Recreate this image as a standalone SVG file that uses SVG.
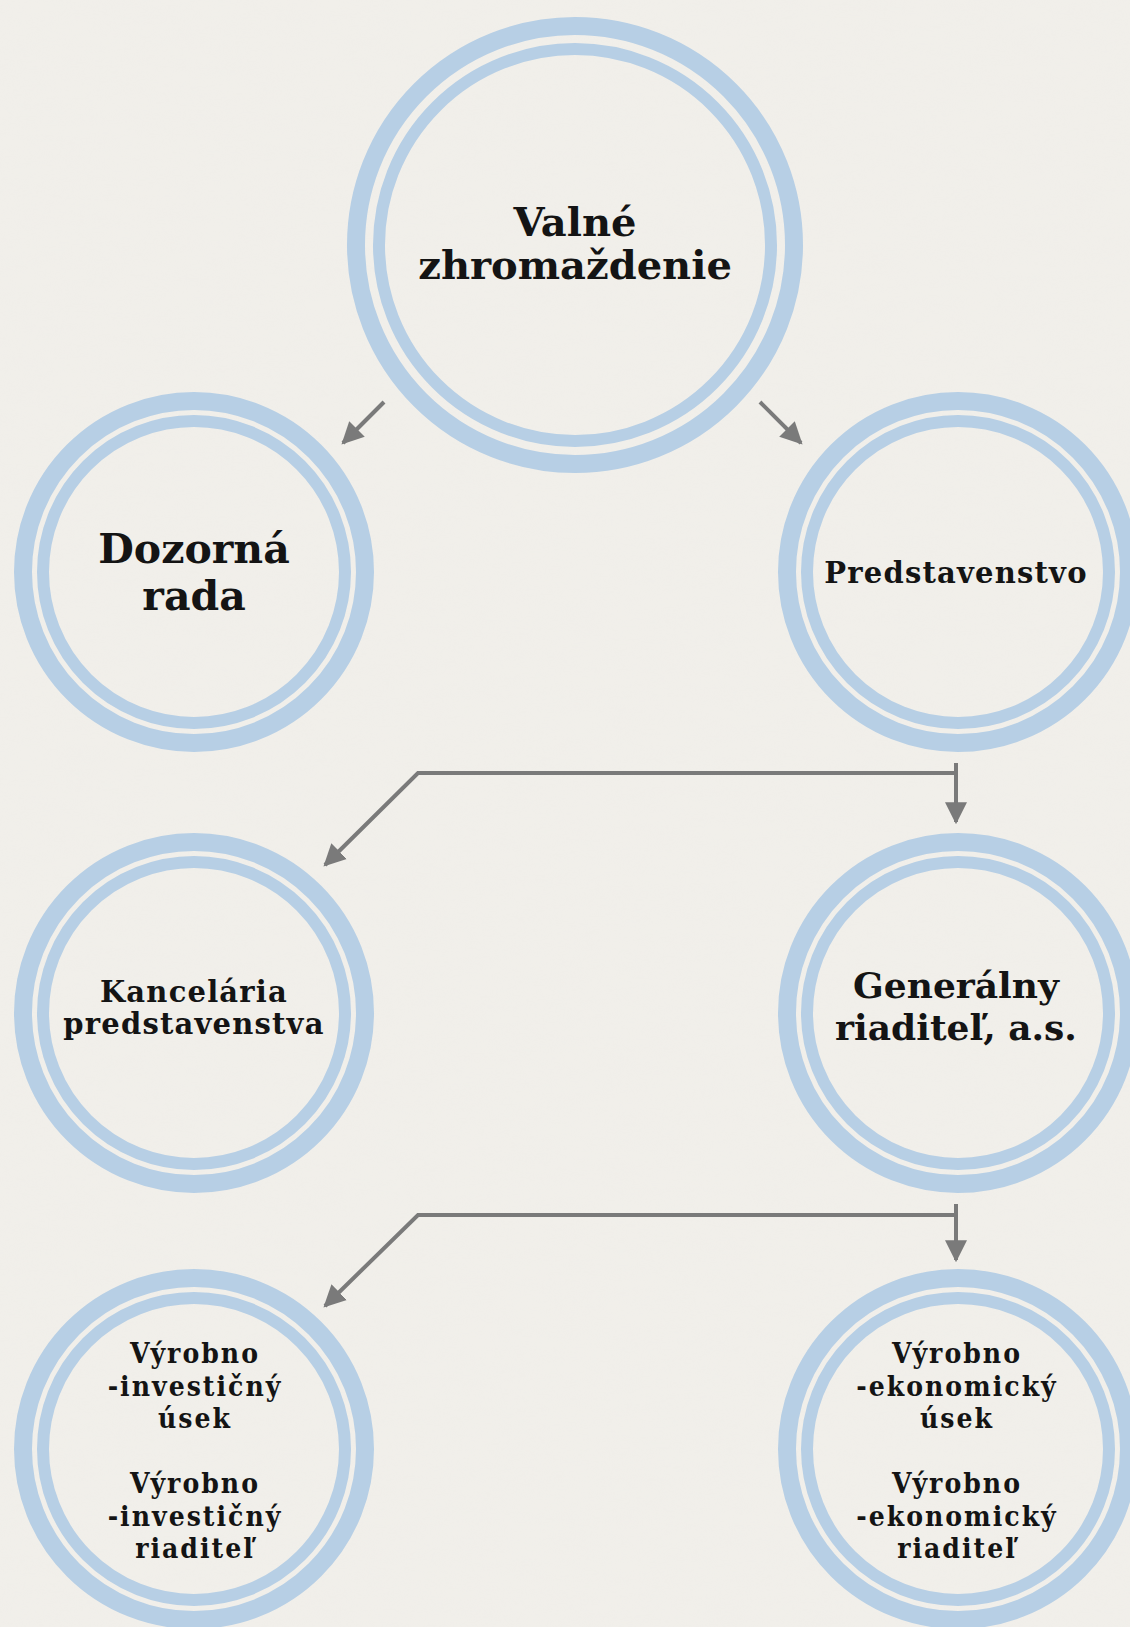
<svg xmlns="http://www.w3.org/2000/svg" width="1130" height="1627" viewBox="0 0 1130 1627">
<defs>
<style>
.bg{fill:#f1efea}
.ro{fill:none;stroke:#b7cfe5;stroke-width:18}
.ri{fill:none;stroke:#b7cfe5;stroke-width:12}
.t{font-family:"DejaVu Serif","Liberation Serif",serif;font-weight:bold;fill:#141414;text-anchor:middle}
.c{font-family:"DejaVu Serif Condensed","DejaVu Serif",serif;font-stretch:condensed;font-weight:bold;fill:#141414;text-anchor:middle;font-size:28px;letter-spacing:2px}
.ln{fill:none;stroke:#7a7a7a;stroke-width:4;stroke-linejoin:miter}
</style>
<marker id="ah" viewBox="0 0 10 10" refX="9" refY="5" markerWidth="22" markerHeight="24" markerUnits="userSpaceOnUse" orient="auto">
<path d="M0,0 L10,5 L0,10 z" fill="#7a7a7a"/>
</marker>
<filter id="tex" x="0" y="0" width="100%" height="100%">
<feTurbulence type="fractalNoise" baseFrequency="0.02 0.08" numOctaves="3" seed="4"/>
<feColorMatrix type="matrix" values="0 0 0 0 0.85  0 0 0 0 0.84  0 0 0 0 0.81  0 0 0 0.5 -0.1"/>
</filter>
</defs>
<rect class="bg" x="0" y="0" width="1130" height="1627"/>
<rect x="0" y="0" width="1130" height="1627" filter="url(#tex)" opacity="0.35"/>

<g id="valne">
<circle class="ro" cx="575" cy="245" r="219"/>
<circle class="ri" cx="575" cy="245" r="196"/>
<text class="t" x="575" y="236" font-size="40">Valné</text>
<text class="t" x="575" y="279" font-size="40">zhromaždenie</text>
</g>
<g id="dozorna">
<circle class="ro" cx="194" cy="572" r="171"/>
<circle class="ri" cx="194" cy="572" r="151"/>
<text class="t" x="194" y="563" font-size="41">Dozorná</text>
<text class="t" x="194" y="610" font-size="41">rada</text>
</g>
<g id="predstavenstvo">
<circle class="ro" cx="958" cy="572" r="171"/>
<circle class="ri" cx="958" cy="572" r="151"/>
<text class="t" x="956" y="583" font-size="29" letter-spacing="1.2">Predstavenstvo</text>
</g>
<g id="kancelaria">
<circle class="ro" cx="194" cy="1013" r="171"/>
<circle class="ri" cx="194" cy="1013" r="151"/>
<text class="t" x="194" y="1002" font-size="29" letter-spacing="1.2">Kancelária</text>
<text class="t" x="194" y="1034" font-size="29" letter-spacing="1.2">predstavenstva</text>
</g>
<g id="generalny">
<circle class="ro" cx="958" cy="1013" r="171"/>
<circle class="ri" cx="958" cy="1013" r="151"/>
<text class="t" x="956" y="998" font-size="36">Generálny</text>
<text class="t" x="956" y="1040" font-size="36">riaditeľ, a.s.</text>
</g>
<g id="investicny">
<circle class="ro" cx="194" cy="1449" r="171"/>
<circle class="ri" cx="194" cy="1449" r="151"/>
<text class="c" x="195" y="1363">Výrobno</text>
<text class="c" x="195" y="1396">-investičný</text>
<text class="c" x="195" y="1428">úsek</text>
<text class="c" x="195" y="1493">Výrobno</text>
<text class="c" x="195" y="1526">-investičný</text>
<text class="c" x="195" y="1558">riaditeľ</text>
</g>
<g id="ekonomicky">
<circle class="ro" cx="958" cy="1449" r="171"/>
<circle class="ri" cx="958" cy="1449" r="151"/>
<text class="c" x="957" y="1363">Výrobno</text>
<text class="c" x="957" y="1396">-ekonomický</text>
<text class="c" x="957" y="1428">úsek</text>
<text class="c" x="957" y="1493">Výrobno</text>
<text class="c" x="957" y="1526">-ekonomický</text>
<text class="c" x="957" y="1558">riaditeľ</text>
</g>

<g id="connectors">
<path class="ln" d="M384,402 L343,443" marker-end="url(#ah)"/>
<path class="ln" d="M760,402 L801,443" marker-end="url(#ah)"/>
<path class="ln" d="M956,773 H418 L325,865" marker-end="url(#ah)"/>
<path class="ln" d="M956,763 V822" marker-end="url(#ah)"/>
<path class="ln" d="M956,1215 H418 L325,1306" marker-end="url(#ah)"/>
<path class="ln" d="M956,1204 V1260" marker-end="url(#ah)"/>
</g>
</svg>
